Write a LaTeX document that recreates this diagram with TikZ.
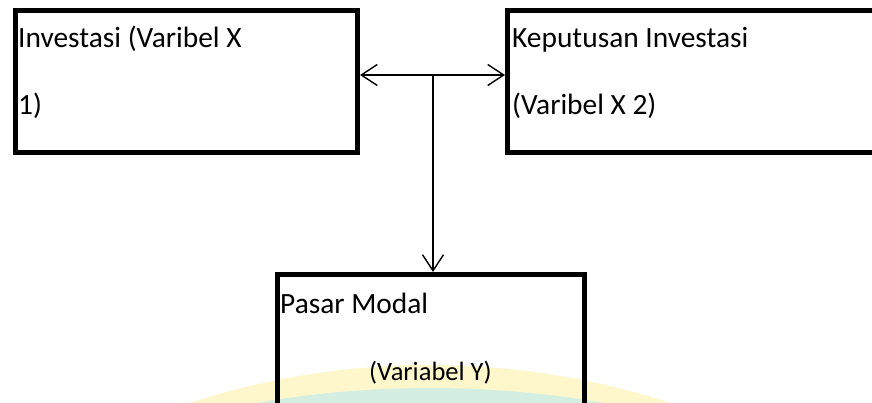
\documentclass[tikz,border=0pt]{standalone}
\usepackage{fontspec}
\setmainfont{Carlito}
\usetikzlibrary{arrows.meta}
\definecolor{wmyellow}{HTML}{FFF7CC}
\definecolor{wmteal}{HTML}{D4EEE2}
\begin{document}
\begin{tikzpicture}[x=1pt,y=-1pt,
  box/.style={draw=black,line width=5pt,rectangle,inner sep=0pt,outer sep=2.5pt},
  lbl/.style={inner sep=0pt,anchor=base west,font=\fontsize{29.4}{34}\selectfont},
  lblsmall/.style={inner sep=0pt,anchor=base west,font=\fontsize{26.5}{31}\selectfont},
  conn/.style={line width=1.4pt,-{Straight Barb[length=16pt,width=21pt,line width=1.4pt]}}]
\useasboundingbox (0,0) rectangle (872,403);
\begin{scope}
\clip (0,0) rectangle (872,403);
% watermark
\fill[wmyellow] (430,1142) circle[radius=777pt];
\fill[wmteal] (430,1393) circle[radius=1005pt];
% boxes
\node[box,minimum width=342pt,minimum height=142pt] (inv) at (186.5,81.5) {};
\node[box,minimum width=380pt,minimum height=142pt] (kep) at (697.5,81.5) {};
\node[box,minimum width=307pt,minimum height=150pt] (pm) at (431,349.5) {};
\end{scope}
% texts
\node[lbl] (t1) at (18,48) {Investasi (Varibel X};
\node[lbl] (t2) at (18,115) {1)};
\node[lbl] (t3) at (512,48) {Keputusan Investasi};
\node[lbl] (t4) at (512,115) {(Varibel X 2)};
\node[lbl] (t5) at (280,313) {Pasar Modal};
\node[lblsmall] (t6) at (369,380) {(Variabel Y)};
% connectors
\coordinate (j) at (433,75);
\draw[conn] (j) -- (inv.east |- j);
\draw[conn] (j) -- (kep.west |- j);
\draw[conn] (j) -- (pm.north -| j);
\end{tikzpicture}
\end{document}
